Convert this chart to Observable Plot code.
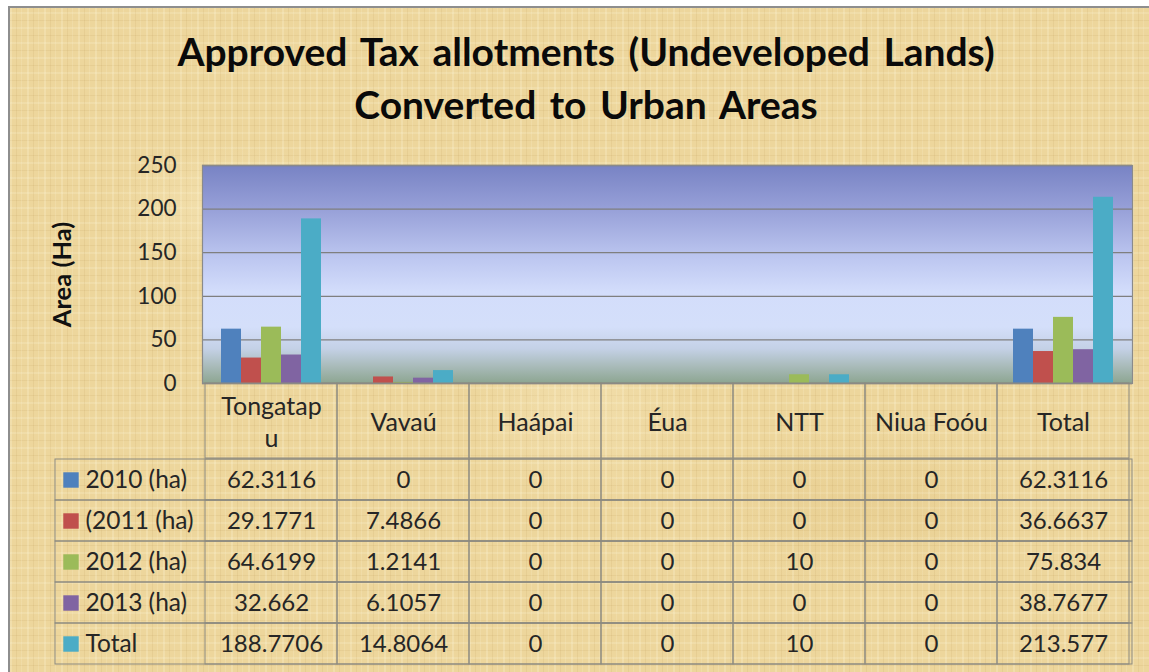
<!DOCTYPE html>
<html>
<head>
<meta charset="utf-8">
<script src="https://cdn.jsdelivr.net/npm/d3@7"></script>
<script src="https://cdn.jsdelivr.net/npm/@observablehq/plot@0.6"></script>
<style>
  html, body { margin: 0; padding: 0; background: #ffffff; }
  #wrap { position: relative; width: 1149px; height: 672px; overflow: hidden; font-family: Lato, "Open Sans", sans-serif; }
  #panel {
    position: absolute; left: 8px; top: 6px; width: 1141px; height: 666px;
    border-left: 2px solid #8e8e8e; border-top: 2px solid #8e8e8e;
    background-color: #edd69c;
    background-image:
      radial-gradient(ellipse 180px 90px at 20% 30%, rgba(255,245,210,0.35), transparent 70%),
      radial-gradient(ellipse 220px 120px at 75% 75%, rgba(200,160,80,0.12), transparent 70%),
      radial-gradient(ellipse 160px 140px at 50% 60%, rgba(255,245,215,0.25), transparent 70%),
      repeating-linear-gradient(90deg, rgba(255,250,225,0.22) 0 2px, transparent 2px 6px, rgba(170,130,60,0.10) 6px 7px, transparent 7px 11px, rgba(255,250,225,0.15) 11px 12px, transparent 12px 17px),
      repeating-linear-gradient(0deg, rgba(255,250,225,0.18) 0 2px, transparent 2px 8px, rgba(160,120,50,0.09) 8px 9px, transparent 9px 15px);
  }
  #title {
    position: absolute; left: 0; top: 25px; width: 1172px; text-align: center;
    font-family: Lato, sans-serif; font-weight: bold; font-size: 39px; line-height: 53px; word-spacing: 4px; color: #0a0a0a;
  }
  .layer { position: absolute; left: 0; }
</style>
</head>
<body>
<div id="wrap">
  <div id="panel"></div>
  <div id="title">Approved Tax allotments (Undeveloped Lands)<br>Converted to Urban Areas</div>
</div>
<script>
// ---- data ----
const categories = ["Tongatapu", "Vavaú", "Haápai", "Éua", "NTT", "Niua Foóu", "Total"];
const seriesNames = ["2010 (ha)", "(2011 (ha)", "2012 (ha)", "2013 (ha)", "Total"];
const values2010 = [62.3116, 0, 0, 0, 0, 0, 62.3116];
const values2011 = [29.1771, 7.4866, 0, 0, 0, 0, 36.6637];
const values2012 = [64.6199, 1.2141, 0, 0, 10, 0, 75.834];
const values2013 = [32.662, 6.1057, 0, 0, 0, 0, 38.7677];
const valuesTotal = [188.7706, 14.8064, 0, 0, 10, 0, 213.577];
const yTicks = [0, 50, 100, 150, 200, 250];
const seriesColors = ["#4f81bd", "#c0504d", "#9bbb59", "#8064a2", "#4bacc6"];

const seriesValues = [values2010, values2011, values2012, values2013, valuesTotal];
const rows = [];
seriesNames.forEach((s, j) => categories.forEach((c, i) => rows.push({category: c, series: s, value: seriesValues[j][i]})));

const W = 1149;
const gridColor = "#7f7f7f";
const tableLine = "#8c8a80";
const textColor = "#262626";
const font = "Lato, 'Open Sans', sans-serif";

function wrapLabel(s) {
  return s.split(" ").map(w => w.length > 8 ? w.slice(0, 8) + "\n" + w.slice(8) : w).join(" ");
}

function gradientDefs() {
  const ns = "http://www.w3.org/2000/svg";
  const g = document.createElementNS(ns, "g");
  const defs = document.createElementNS(ns, "defs");
  const lg = document.createElementNS(ns, "linearGradient");
  lg.setAttribute("id", "plotGrad");
  lg.setAttribute("x1", "0"); lg.setAttribute("y1", "0");
  lg.setAttribute("x2", "0"); lg.setAttribute("y2", "1");
  [["0", "#7883c4"], ["0.2", "#97a0d8"], ["0.42", "#bcc6f0"], ["0.58", "#d3ddfb"], ["0.74", "#d4dffa"],
   ["0.84", "#c4d1e6"], ["0.92", "#a9bbba"], ["1", "#8ca590"]].forEach(([o, c]) => {
    const st = document.createElementNS(ns, "stop");
    st.setAttribute("offset", o); st.setAttribute("stop-color", c);
    lg.appendChild(st);
  });
  defs.appendChild(lg); g.appendChild(defs);
  return g;
}

const common = {width: W, marginLeft: 202, marginRight: 17};

// background layer: plot area, gridlines, y axis
const bg = Plot.plot({
  ...common, height: 390, marginTop: 165, marginBottom: 7,
  style: {background: "transparent", fontFamily: font, fontSize: "22.5px", color: textColor, overflow: "visible"},
  x: {domain: categories, axis: null},
  y: {domain: [0, 250], ticks: yTicks, tickSize: 0, tickPadding: 26, label: null},
  marks: [
    gradientDefs,
    Plot.frame({fill: "url(#plotGrad)"}),
    Plot.ruleY(yTicks, {stroke: gridColor, strokeWidth: 1.3}),
    Plot.frame({stroke: "#8a8a8a", strokeWidth: 1.2}),
    Plot.text(["Area (Ha)"], {frameAnchor: "left", dx: -140, rotate: -90, textAnchor: "middle", fontWeight: "bold", fontSize: 25.5, fill: "#111"})
  ]
});
bg.classList.add("layer"); bg.style.top = "0px";

// bars layer
const bars = Plot.plot({
  ...common, height: 390, marginTop: 165, marginBottom: 7,
  style: {background: "transparent", overflow: "visible"},
  facet: {data: rows, x: "category"},
  fx: {domain: categories, padding: 0, axis: null},
  x: {domain: seriesNames, paddingInner: 0, paddingOuter: 0.73, axis: null},
  y: {domain: [0, 250], axis: null},
  color: {domain: seriesNames, range: seriesColors},
  marks: [
    Plot.barY(rows, {x: "series", y: "value", fill: "series"})
  ]
});
bars.classList.add("layer"); bars.style.top = "0px";

// table header
const header = Plot.plot({
  ...common, height: 77, marginTop: 1, marginBottom: 1,
  style: {background: "transparent", fontFamily: font, color: textColor, overflow: "visible"},
  x: {domain: categories, padding: 0, axis: null},
  marks: [
    Plot.cell(categories, {x: d => d, fill: "none", stroke: tableLine}),
    Plot.text(categories, {x: d => d, text: wrapLabel, fontSize: 25, lineHeight: 1.25, fill: textColor})
  ]
});
header.classList.add("layer"); header.style.top = "382px";

// table body
const body = Plot.plot({
  ...common, height: 209, marginTop: 1, marginBottom: 1,
  style: {background: "transparent", fontFamily: font, color: textColor, overflow: "visible"},
  x: {domain: categories, padding: 0, axis: null},
  y: {domain: seriesNames, padding: 0, axis: null},
  color: {domain: seriesNames, range: seriesColors},
  marks: [
    Plot.cell(rows, {x: "category", y: "series", fill: "none", stroke: tableLine}),
    Plot.cell(seriesNames, {y: d => d, fill: "none", stroke: tableLine, insetLeft: -147}),
    Plot.text(rows, {x: "category", y: "series", text: d => String(d.value), fontSize: 24, fill: textColor}),
    Plot.dot(seriesNames, {y: d => d, frameAnchor: "left", dx: -131.5, symbol: "square", r: 8.7, fill: d => d, stroke: "none"}),
    Plot.text(seriesNames, {y: d => d, frameAnchor: "left", dx: -117, textAnchor: "start", text: d => d, fontSize: 24.5, fill: textColor})
  ]
});
body.classList.add("layer"); body.style.top = "457px";

const wrap = document.getElementById("wrap");
[bg, bars, header, body].forEach(el => wrap.appendChild(el));
</script>
</body>
</html>
